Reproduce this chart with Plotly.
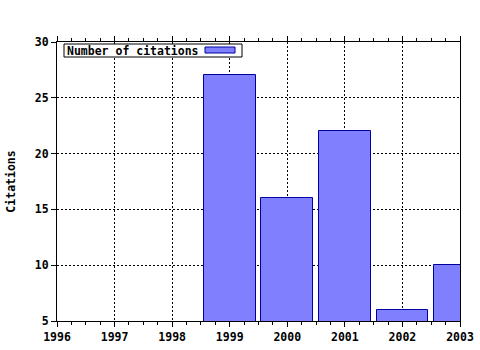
import plotly.graph_objects as go

years = [1999, 2000, 2001, 2002, 2003]
citations = [27, 16, 22, 6, 10]
x_ticks = [1996, 1997, 1998, 1999, 2000, 2001, 2002, 2003]
y_ticks = [5, 10, 15, 20, 25, 30]
series_name = "Number of citations"

FONT = dict(family="DejaVu Sans Mono", size=11.5, color="black")
PW, PH = 403, 279

fig = go.Figure()
fig.add_trace(go.Bar(
    x=years, y=citations, width=0.9, name=series_name,
    marker=dict(color="#8080ff", line=dict(color="#0000a0", width=1)),
    showlegend=False,
))

fig.update_layout(
    width=480, height=350,
    margin=dict(l=57, r=20, t=42, b=29, autoexpand=False),
    paper_bgcolor="white", plot_bgcolor="white",
    font=FONT,
    bargap=0,
)
fig.update_xaxes(
    range=[1996, 2003], tickvals=x_ticks, ticktext=[f"<b>{v}</b>" for v in x_ticks],
    showline=True, linecolor="black", linewidth=1, mirror="ticks",
    ticks="outside", ticklen=5, tickcolor="black",
    showgrid=True, gridcolor="black", griddash="2px,2px", gridwidth=1,
    zeroline=False, automargin=False,
    minor=dict(dtick=0.25, tick0=1996, ticks="outside", ticklen=3, tickcolor="black", showgrid=False),
)
fig.update_yaxes(
    range=[5, 30], tickvals=y_ticks, ticktext=[f"<b>{v}</b>" for v in y_ticks],
    showline=True, linecolor="black", linewidth=1, mirror=True,
    ticks="outside", ticklen=5, tickcolor="black",
    showgrid=True, gridcolor="black", griddash="2px,2px", gridwidth=1,
    zeroline=False, automargin=False,
    title=dict(text="<b>Citations</b>", standoff=16, font=FONT),
)

# legend box drawn manually (symbol after text, as in reference)
fig.add_shape(
    type="rect", xref="paper", yref="paper",
    x0=7/PW, x1=185/PW, y0=1 - 15/PH, y1=1 - 2/PH,
    fillcolor="white", line=dict(color="black", width=1),
)
fig.add_shape(
    type="rect", xref="paper", yref="paper",
    x0=148/PW, x1=178/PW, y0=1 - 11/PH, y1=1 - 5/PH,
    fillcolor="#8080ff", line=dict(color="#0000a0", width=1),
)
fig.add_annotation(
    xref="paper", yref="paper", x=8/PW, y=1 - 8.5/PH, xanchor="left", yanchor="middle",
    text=f"<b>{series_name}</b>", showarrow=False, font=FONT,
)

fig.write_html("out.html")
